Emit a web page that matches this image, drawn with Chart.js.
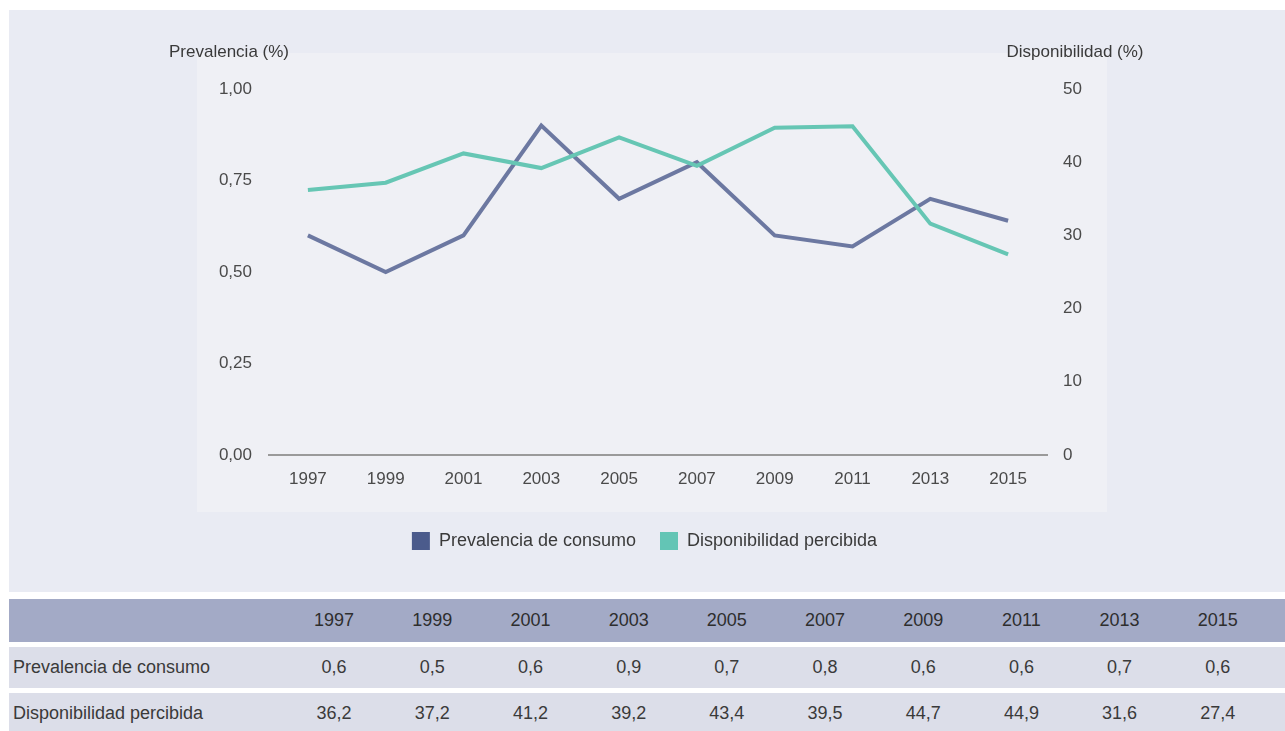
<!DOCTYPE html>
<html lang="es">
<head>
<meta charset="utf-8">
<title>Prevalencia y disponibilidad percibida</title>
<script src="https://cdn.jsdelivr.net/npm/chart.js@4/dist/chart.umd.min.js"></script>
<style>
    body { margin: 0; background: #fff; font-family: 'Liberation Sans', Arial, sans-serif; }
    #page { position: relative; width: 1285px; height: 731px; overflow: hidden; }
    #topBg { position: absolute; left: 9px; top: 10px; width: 1276px; height: 582px; background: #e9ebf3; }
    #panel { position: absolute; left: 197px; top: 53px; width: 910px; height: 459px; background: #eff0f5; }
    #chartBox { position: absolute; left: 0; top: 0; width: 1285px; height: 592px; }
    #dataTable {
        position: absolute; left: 9px; top: 594px; width: 1276px;
        border-collapse: separate; border-spacing: 0 5px; table-layout: fixed;
        color: #3a3a3a; font-size: 18px;
    }
    #dataTable th, #dataTable td { padding: 0; text-align: center; font-weight: normal; }
    #dataTable thead tr { background: #a3aac6; }
    #dataTable thead th { height: 43px; font-size: 18px; color: #2e2e2e; }
    #dataTable tbody tr { background: #dcdee9; }
    #dataTable tbody td { height: 41px; }
    #dataTable .rowLabel { text-align: left; padding-left: 4px; }
</style>
</head>
<body>
<div id="page">
    <div id="topBg"></div>
    <div id="panel"></div>
    <div id="chartBox"><canvas id="mainChart"></canvas></div>
    <table id="dataTable">
        <colgroup id="cols"></colgroup>
        <thead><tr id="headRow"></tr></thead>
        <tbody id="bodyRows"></tbody>
    </table>
</div>
<script>
// Survey years and series
const years = ['1997', '1999', '2001', '2003', '2005', '2007', '2009', '2011', '2013', '2015'];
const prevalencia = [0.60, 0.50, 0.60, 0.90, 0.70, 0.80, 0.60, 0.57, 0.70, 0.64];
const disponibilidad = [36.2, 37.2, 41.2, 39.2, 43.4, 39.5, 44.7, 44.9, 31.6, 27.4];

const seriesNames = ['Prevalencia de consumo', 'Disponibilidad percibida'];
const leftTitle = 'Prevalencia (%)';
const rightTitle = 'Disponibilidad (%)';

const FONT = "'Liberation Sans', Arial, sans-serif";
const TEXT_COLOR = '#4a4a4a';

function comma(value, decimals) {
    return value.toFixed(decimals).replace('.', ',');
}

// Axis titles sit above each vertical axis
const axisTitles = {
    id: 'axisTitles',
    afterDraw(chart) {
        const ctx = chart.ctx;
        const area = chart.chartArea;
        ctx.save();
        ctx.font = '17px ' + FONT;
        ctx.fillStyle = '#3a3a3a';
        ctx.textBaseline = 'middle';
        ctx.textAlign = 'center';
        ctx.fillText(leftTitle, area.left - 40, 52);
        ctx.fillText(rightTitle, area.right + 28, 52);
        ctx.restore();
    }
};

const ctx = document.getElementById('mainChart').getContext('2d');
const mainChart = new Chart(ctx, {
    type: 'line',
    data: {
        labels: years,
        datasets: [{
            label: seriesNames[0],
            data: prevalencia,
            yAxisID: 'y',
            borderColor: '#6c78a1',
            backgroundColor: '#4b5b8c',
            borderWidth: 4,
            pointRadius: 0,
            tension: 0,
            order: 1
        }, {
            label: seriesNames[1],
            data: disponibilidad,
            yAxisID: 'y1',
            borderColor: '#66c6b4',
            backgroundColor: '#63c5b5',
            borderWidth: 4,
            pointRadius: 0,
            tension: 0,
            order: 0
        }]
    },
    options: {
        responsive: true,
        maintainAspectRatio: false,
        animation: false,
        layout: {
            // left padding is smaller than the right one so the legend sits a bit left of centre
            padding: { left: 172, right: 168, top: 89, bottom: 32 }
        },
        plugins: {
            tooltip: { enabled: false },
            legend: {
                position: 'bottom',
                labels: {
                    boxWidth: 18,
                    boxHeight: 18,
                    padding: 24,
                    color: '#3a3a3a',
                    font: { family: FONT, size: 18 },
                    sort: (a, b) => a.datasetIndex - b.datasetIndex,
                    generateLabels: function(chart) {
                        const items = Chart.defaults.plugins.legend.labels.generateLabels(chart);
                        items.forEach(item => { item.lineWidth = 0; });
                        return items;
                    }
                }
            }
        },
        scales: {
            x: {
                offset: true,
                grid: { display: false, drawTicks: false },
                border: { display: true, color: '#9a9a9a', width: 2 },
                ticks: { padding: 14, color: TEXT_COLOR, font: { family: FONT, size: 17 } },
                afterFit: function(scale) { scale.height = 53; }
            },
            y: {
                position: 'left',
                min: 0,
                max: 1,
                grid: { display: false, drawTicks: false },
                border: { display: false },
                ticks: {
                    stepSize: 0.25,
                    padding: 17,
                    color: TEXT_COLOR,
                    font: { family: FONT, size: 17 },
                    callback: value => comma(value, 2)
                },
                afterFit: function(scale) { scale.width = 97; }
            },
            y1: {
                position: 'right',
                min: 0,
                max: 50,
                grid: { display: false, drawTicks: false },
                border: { display: false },
                ticks: {
                    stepSize: 10,
                    padding: 16,
                    color: TEXT_COLOR,
                    font: { family: FONT, size: 17 }
                },
                afterFit: function(scale) { scale.width = 70; }
            }
        }
    },
    plugins: [axisTitles]
});

// Data table under the chart
const cols = document.getElementById('cols');
const headRow = document.getElementById('headRow');
const bodyRows = document.getElementById('bodyRows');

let colHtml = '<col style="width:276px">';
years.forEach(() => { colHtml += '<col style="width:98.2px">'; });
colHtml += '<col style="width:18px">';
cols.innerHTML = colHtml;

headRow.innerHTML = '<th></th>' + years.map(y => '<th>' + y + '</th>').join('') + '<th></th>';

const tableRows = [
    [seriesNames[0], prevalencia],
    [seriesNames[1], disponibilidad]
];
tableRows.forEach(([name, values]) => {
    const tr = document.createElement('tr');
    tr.innerHTML = '<td class="rowLabel">' + name + '</td>' +
        values.map(v => '<td>' + comma(v, 1) + '</td>').join('') + '<td></td>';
    bodyRows.appendChild(tr);
});
</script>
</body>
</html>
